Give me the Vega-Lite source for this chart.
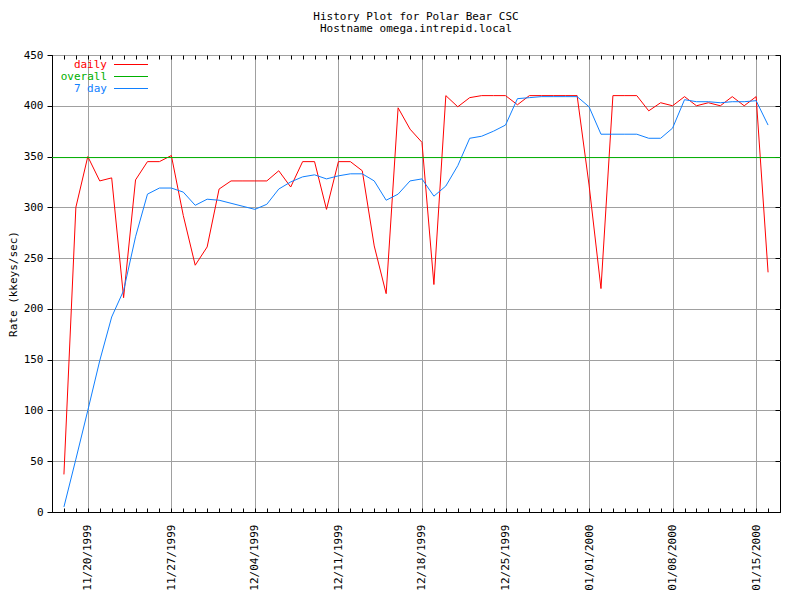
{
  "$schema": "https://vega.github.io/schema/vega-lite/v6.json",
  "width": 728,
  "height": 457,
  "autosize": "none",
  "padding": {"left": 52, "top": 55, "right": 20, "bottom": 88},
  "background": "white",
  "config": {
    "font": "DejaVu Sans Mono",
    "view": {"stroke": "#000000", "strokeWidth": 1},
    "axis": {
      "labelFont": "DejaVu Sans Mono", "labelFontSize": 11, "labelColor": "#000000",
      "titleFont": "DejaVu Sans Mono", "titleFontSize": 11, "titleFontWeight": "normal", "titleColor": "#000000",
      "domainColor": "#000000", "tickColor": "#000000", "gridColor": "#a0a0a0", "gridOpacity": 1
    }
  },
  "title": {
    "text": ["History Plot for Polar Bear CSC", "Hostname omega.intrepid.local"],
    "font": "DejaVu Sans Mono", "fontSize": 11, "fontWeight": "normal", "color": "#000000",
    "anchor": "middle", "frame": "group", "offset": 15, "lineHeight": 12
  },
  "data": {"values": [
    {"date": "1999/11/18", "series": "daily", "value": 37},
    {"date": "1999/11/19", "series": "daily", "value": 300},
    {"date": "1999/11/20", "series": "daily", "value": 350},
    {"date": "1999/11/21", "series": "daily", "value": 326},
    {"date": "1999/11/22", "series": "daily", "value": 329},
    {"date": "1999/11/23", "series": "daily", "value": 211},
    {"date": "1999/11/24", "series": "daily", "value": 327},
    {"date": "1999/11/25", "series": "daily", "value": 345},
    {"date": "1999/11/26", "series": "daily", "value": 345},
    {"date": "1999/11/27", "series": "daily", "value": 351},
    {"date": "1999/11/28", "series": "daily", "value": 292},
    {"date": "1999/11/29", "series": "daily", "value": 243},
    {"date": "1999/11/30", "series": "daily", "value": 261},
    {"date": "1999/12/01", "series": "daily", "value": 318},
    {"date": "1999/12/02", "series": "daily", "value": 326},
    {"date": "1999/12/03", "series": "daily", "value": 326},
    {"date": "1999/12/04", "series": "daily", "value": 326},
    {"date": "1999/12/05", "series": "daily", "value": 326},
    {"date": "1999/12/06", "series": "daily", "value": 336},
    {"date": "1999/12/07", "series": "daily", "value": 320},
    {"date": "1999/12/08", "series": "daily", "value": 345},
    {"date": "1999/12/09", "series": "daily", "value": 345},
    {"date": "1999/12/10", "series": "daily", "value": 298},
    {"date": "1999/12/11", "series": "daily", "value": 345},
    {"date": "1999/12/12", "series": "daily", "value": 345},
    {"date": "1999/12/13", "series": "daily", "value": 336},
    {"date": "1999/12/14", "series": "daily", "value": 262},
    {"date": "1999/12/15", "series": "daily", "value": 215},
    {"date": "1999/12/16", "series": "daily", "value": 398},
    {"date": "1999/12/17", "series": "daily", "value": 377},
    {"date": "1999/12/18", "series": "daily", "value": 364},
    {"date": "1999/12/19", "series": "daily", "value": 224},
    {"date": "1999/12/20", "series": "daily", "value": 410},
    {"date": "1999/12/21", "series": "daily", "value": 399},
    {"date": "1999/12/22", "series": "daily", "value": 408},
    {"date": "1999/12/23", "series": "daily", "value": 410},
    {"date": "1999/12/24", "series": "daily", "value": 410},
    {"date": "1999/12/25", "series": "daily", "value": 410},
    {"date": "1999/12/26", "series": "daily", "value": 401},
    {"date": "1999/12/27", "series": "daily", "value": 410},
    {"date": "1999/12/28", "series": "daily", "value": 410},
    {"date": "1999/12/29", "series": "daily", "value": 410},
    {"date": "1999/12/30", "series": "daily", "value": 410},
    {"date": "1999/12/31", "series": "daily", "value": 410},
    {"date": "2000/01/01", "series": "daily", "value": 322},
    {"date": "2000/01/02", "series": "daily", "value": 220},
    {"date": "2000/01/03", "series": "daily", "value": 410},
    {"date": "2000/01/04", "series": "daily", "value": 410},
    {"date": "2000/01/05", "series": "daily", "value": 410},
    {"date": "2000/01/06", "series": "daily", "value": 395},
    {"date": "2000/01/07", "series": "daily", "value": 403},
    {"date": "2000/01/08", "series": "daily", "value": 400},
    {"date": "2000/01/09", "series": "daily", "value": 409},
    {"date": "2000/01/10", "series": "daily", "value": 400},
    {"date": "2000/01/11", "series": "daily", "value": 403},
    {"date": "2000/01/12", "series": "daily", "value": 400},
    {"date": "2000/01/13", "series": "daily", "value": 409},
    {"date": "2000/01/14", "series": "daily", "value": 400},
    {"date": "2000/01/15", "series": "daily", "value": 409},
    {"date": "2000/01/16", "series": "daily", "value": 236},
    {"date": "1999/11/18", "series": "7 day", "value": 5},
    {"date": "1999/11/19", "series": "7 day", "value": 52},
    {"date": "1999/11/20", "series": "7 day", "value": 100},
    {"date": "1999/11/21", "series": "7 day", "value": 149},
    {"date": "1999/11/22", "series": "7 day", "value": 192},
    {"date": "1999/11/23", "series": "7 day", "value": 218},
    {"date": "1999/11/24", "series": "7 day", "value": 271},
    {"date": "1999/11/25", "series": "7 day", "value": 313},
    {"date": "1999/11/26", "series": "7 day", "value": 319},
    {"date": "1999/11/27", "series": "7 day", "value": 319},
    {"date": "1999/11/28", "series": "7 day", "value": 315},
    {"date": "1999/11/29", "series": "7 day", "value": 302},
    {"date": "1999/11/30", "series": "7 day", "value": 308},
    {"date": "1999/12/01", "series": "7 day", "value": 307},
    {"date": "1999/12/02", "series": "7 day", "value": 304},
    {"date": "1999/12/03", "series": "7 day", "value": 301},
    {"date": "1999/12/04", "series": "7 day", "value": 298},
    {"date": "1999/12/05", "series": "7 day", "value": 303},
    {"date": "1999/12/06", "series": "7 day", "value": 318},
    {"date": "1999/12/07", "series": "7 day", "value": 325},
    {"date": "1999/12/08", "series": "7 day", "value": 330},
    {"date": "1999/12/09", "series": "7 day", "value": 332},
    {"date": "1999/12/10", "series": "7 day", "value": 328},
    {"date": "1999/12/11", "series": "7 day", "value": 331},
    {"date": "1999/12/12", "series": "7 day", "value": 333},
    {"date": "1999/12/13", "series": "7 day", "value": 333},
    {"date": "1999/12/14", "series": "7 day", "value": 326},
    {"date": "1999/12/15", "series": "7 day", "value": 307},
    {"date": "1999/12/16", "series": "7 day", "value": 313},
    {"date": "1999/12/17", "series": "7 day", "value": 326},
    {"date": "1999/12/18", "series": "7 day", "value": 328},
    {"date": "1999/12/19", "series": "7 day", "value": 311},
    {"date": "1999/12/20", "series": "7 day", "value": 321},
    {"date": "1999/12/21", "series": "7 day", "value": 341},
    {"date": "1999/12/22", "series": "7 day", "value": 368},
    {"date": "1999/12/23", "series": "7 day", "value": 370},
    {"date": "1999/12/24", "series": "7 day", "value": 375},
    {"date": "1999/12/25", "series": "7 day", "value": 381},
    {"date": "1999/12/26", "series": "7 day", "value": 407},
    {"date": "1999/12/27", "series": "7 day", "value": 408},
    {"date": "1999/12/28", "series": "7 day", "value": 409},
    {"date": "1999/12/29", "series": "7 day", "value": 409},
    {"date": "1999/12/30", "series": "7 day", "value": 409},
    {"date": "1999/12/31", "series": "7 day", "value": 409},
    {"date": "2000/01/01", "series": "7 day", "value": 399},
    {"date": "2000/01/02", "series": "7 day", "value": 372},
    {"date": "2000/01/03", "series": "7 day", "value": 372},
    {"date": "2000/01/04", "series": "7 day", "value": 372},
    {"date": "2000/01/05", "series": "7 day", "value": 372},
    {"date": "2000/01/06", "series": "7 day", "value": 368},
    {"date": "2000/01/07", "series": "7 day", "value": 368},
    {"date": "2000/01/08", "series": "7 day", "value": 378},
    {"date": "2000/01/09", "series": "7 day", "value": 406},
    {"date": "2000/01/10", "series": "7 day", "value": 404},
    {"date": "2000/01/11", "series": "7 day", "value": 404},
    {"date": "2000/01/12", "series": "7 day", "value": 403},
    {"date": "2000/01/13", "series": "7 day", "value": 404},
    {"date": "2000/01/14", "series": "7 day", "value": 404},
    {"date": "2000/01/15", "series": "7 day", "value": 405},
    {"date": "2000/01/16", "series": "7 day", "value": 381},
    {"date": "1999/11/17", "series": "overall", "value": 349},
    {"date": "2000/01/17", "series": "overall", "value": 349}
  ]},
  "layer": [
    {
      "transform": [{"filter": "datum.series !== 'overall'"}],
      "mark": {"type": "line", "strokeWidth": 1},
      "encoding": {
        "x": {
          "field": "date", "type": "temporal",
          "scale": {"domain": [{"year": 1999, "month": 11, "date": 17}, {"year": 2000, "month": 1, "date": 17}]},
          "axis": {
            "orient": "bottom", "title": null,
            "tickCount": {"interval": "day", "step": 1},
            "labelExpr": "day(datum.value) == 6 ? timeFormat(datum.value, '%m/%d/%Y') : ''",
            "labelAngle": -90, "labelOverlap": false, "labelFlush": false, "labelBound": false,
            "labelPadding": 16, "tickSize": -4,
            "grid": true,
            "gridOpacity": {"condition": {"test": "day(datum.value) == 6", "value": 1}, "value": 0}
          }
        },
        "y": {
          "field": "value", "type": "quantitative",
          "scale": {"domain": [0, 450], "nice": false, "zero": true},
          "axis": {
            "orient": "left", "title": "Rate (kkeys/sec)",
            "values": [0, 50, 100, 150, 200, 250, 300, 350, 400, 450],
            "tickSize": 5, "labelPadding": 4, "titlePadding": 5, "grid": true
          }
        },
        "color": {
          "field": "series", "type": "nominal",
          "scale": {"domain": ["daily", "overall", "7 day"], "range": ["#ff0000", "#00b000", "#1080ff"]},
          "legend": {
            "orient": "top-left", "offset": 4, "padding": 0, "title": null,
            "symbolType": "stroke", "symbolSize": 1156, "symbolStrokeWidth": 1,
            "clipHeight": 11,
            "labelFont": "DejaVu Sans Mono", "labelFontSize": 11, "rowPadding": 0,
            "encode": {
              "entries": {"update": {"width": {"value": 100}, "height": {"value": 11}}},
              "labels": {"update": {"fill": {"scale": "color", "field": "value"}, "x": {"value": 51}, "align": {"value": "right"}}},
              "symbols": {"update": {"x": {"value": 75}}}
            }
          }
        }
      }
    },
    {
      "transform": [{"filter": "datum.series === 'overall'"}],
      "mark": {"type": "line", "strokeWidth": 1},
      "encoding": {
        "x": {
          "field": "date", "type": "temporal",
          "axis": {
            "orient": "top", "title": null, "labels": false, "grid": false, "domain": false,
            "tickCount": {"interval": "day", "step": 1}, "tickSize": -4
          }
        },
        "y": {
          "field": "value", "type": "quantitative",
          "axis": {
            "orient": "right", "title": null, "labels": false, "grid": false, "domain": false,
            "values": [0, 50, 100, 150, 200, 250, 300, 350, 400, 450], "tickSize": -5
          }
        },
        "color": {"field": "series", "type": "nominal"}
      }
    }
  ],
  "resolve": {"axis": {"x": "independent", "y": "independent"}}
}
